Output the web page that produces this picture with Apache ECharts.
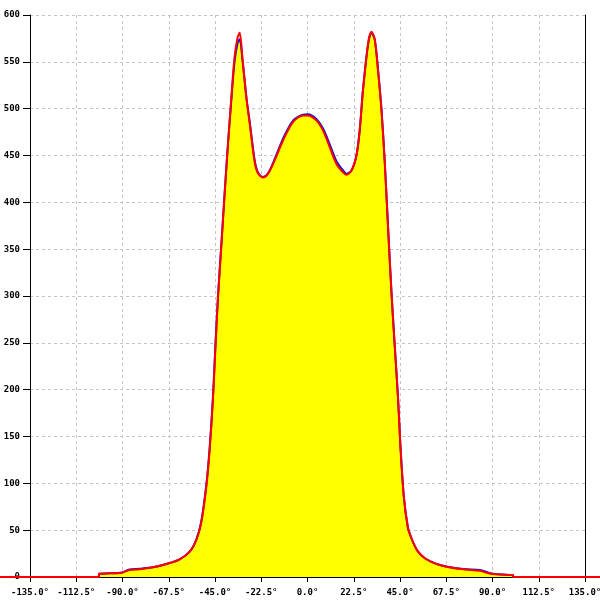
<!DOCTYPE html>
<html>
<head>
<meta charset="utf-8">
<script src="https://cdn.jsdelivr.net/npm/echarts@6/dist/echarts.min.js"></script>
<style>html,body{margin:0;padding:0;background:#fff}#c{width:600px;height:600px}</style>
</head>
<body>
<div id="c"></div>
<script>
// angle (degrees)
var angles = [-180, -101.6, -101.4, -96.3, -90.6, -86.6, -81.7, -75.2, -68.7, -62.2, -57.3, -54.1, -51.7, -49.2, -47.6, -46.0, -44.9, -43.6, -41.9, -40.3, -38.7, -37.1, -35.5, -34.0, -33.0, -31.6, -29.6, -28.1, -25.7, -24.1, -21.7, -19.2, -16.0, -11.9, -7.1, -2.2, 0.2, 4.3, 7.5, 10.8, 14.1, 17.3, 18.9, 21.4, 23.8, 25.4, 27.0, 29.5, 31.1, 32.7, 34.3, 36.0, 37.6, 39.2, 40.9, 42.5, 44.1, 45.2, 46.9, 48.9, 50.3, 51.4, 53.8, 57.1, 62.0, 67.6, 75.7, 83.9, 87.1, 90.3, 99.3, 99.9, 100.1, 180];
// red curve
var redValues = [0, 0, 3.5, 3.9, 4.6, 7.5, 8.2, 10.3, 13.9, 18.9, 27, 39.5, 58, 97, 136, 190, 240, 296, 355, 410, 462, 510, 555, 576, 581, 553, 509, 484, 443, 431, 426.4, 430.6, 444.8, 466, 485.6, 492.8, 492.8, 487.5, 476.8, 459, 441, 432, 429.5, 434, 450, 477, 520, 570, 582, 574, 541, 498, 442, 373, 302, 245, 189, 140, 85, 52, 43, 37, 27, 20, 14.6, 11, 8.2, 6.7, 4.6, 3.2, 2.1, 2.0, 0, 0];
// blue curve
var blueValues = [0, 0, 3.5, 3.9, 4.6, 8.0, 8.8, 10.3, 13.9, 18.9, 27, 40, 59, 99, 138, 192, 243, 298, 355, 410, 462, 508, 550, 570, 574, 551, 510, 486, 445, 432, 427, 431, 446, 468, 487, 493.5, 494, 489, 479, 462, 444, 434, 430.5, 434, 450, 477, 520, 569, 581, 574, 542, 499, 443, 373, 302, 245, 189, 140, 85, 52, 43, 37, 27, 20, 14.6, 11.3, 8.6, 7.4, 5.4, 3.4, 2.1, 2.0, 0, 0];
var yTicks = [0, 50, 100, 150, 200, 250, 300, 350, 400, 450, 500, 550, 600];

function pairs(xs, ys) { return xs.map(function (x, i) { return [x, ys[i]]; }); }

var font = { fontFamily: 'DejaVu Sans Mono', fontSize: 9, fontWeight: 'bold', color: '#000' };
var split = { show: true, lineStyle: { color: '#c4c4c4', type: [3, 3], width: 1 } };

var chart = echarts.init(document.getElementById('c'));
chart.setOption({
  animation: false,
  backgroundColor: '#fff',
  grid: [
    { left: 30, right: 15, top: 15, bottom: 23, outerBoundsMode: 'none', containLabel: false },
    { left: 0, right: 0, top: 15, bottom: 23, outerBoundsMode: 'none', containLabel: false }
  ],
  xAxis: [
    { gridIndex: 0, type: 'value', min: -135, max: 135, interval: 22.5,
      axisLine: { show: true, onZero: false, lineStyle: { color: '#000', width: 1 } },
      axisTick: { show: true, inside: false, length: 5, lineStyle: { color: '#000' } },
      axisLabel: Object.assign({ margin: 11, hideOverlap: false, formatter: function (v) { return v.toFixed(1) + '°'; } }, font),
      splitLine: split },
    { gridIndex: 1, type: 'value', min: -135 - 30 * 270 / 555, max: 135 + 15 * 270 / 555,
      axisLine: { show: true, onZero: false, lineStyle: { color: '#000', width: 1 } },
      axisTick: { show: false }, axisLabel: { show: false }, splitLine: { show: false } }
  ],
  yAxis: [
    { gridIndex: 0, type: 'value', min: 0, max: 600, interval: 50, position: 'left',
      axisLine: { show: true, onZero: false, lineStyle: { color: '#000', width: 1 } },
      axisTick: { show: true, length: 7, lineStyle: { color: '#000' } },
      axisLabel: Object.assign({ margin: 10 }, font),
      splitLine: split },
    { gridIndex: 0, type: 'value', min: 0, max: 600, interval: 50, position: 'right',
      axisLine: { show: true, onZero: false, lineStyle: { color: '#000', width: 1 } },
      axisTick: { show: false }, axisLabel: { show: false }, splitLine: { show: false } },
    { gridIndex: 1, type: 'value', min: 0, max: 600, show: false }
  ],
  series: [
    { type: 'line', xAxisIndex: 1, yAxisIndex: 2, data: pairs(angles, blueValues),
      showSymbol: false, smooth: 0.3,
      lineStyle: { color: '#1010e0', width: 2 },
      areaStyle: { color: '#ffff00', opacity: 1 }, z: 3 },
    { type: 'line', xAxisIndex: 1, yAxisIndex: 2, data: pairs(angles, redValues),
      showSymbol: false, smooth: 0.3,
      lineStyle: { color: '#ff0000', width: 2 }, z: 4 }
  ]
});
</script>
</body>
</html>
